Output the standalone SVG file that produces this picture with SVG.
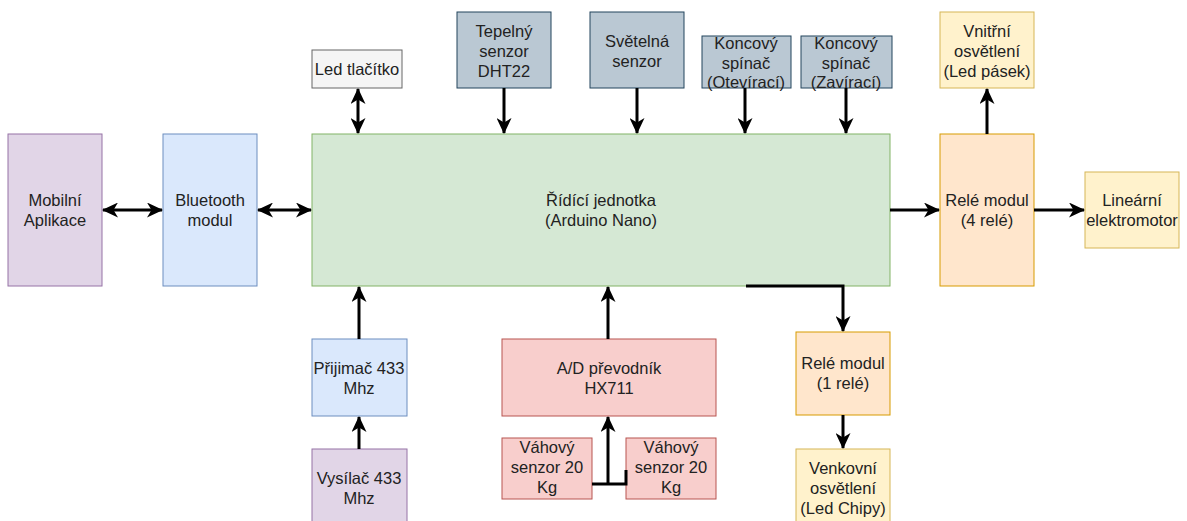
<svg xmlns="http://www.w3.org/2000/svg" width="1187" height="521" viewBox="0 0 1187 521">
<defs>
<style>
rect{stroke-width:1}
.t{font-family:"Liberation Sans",Arial,sans-serif;font-size:16.5px;fill:#222;text-anchor:middle}
.e{fill:none;stroke:#000;stroke-width:3}
.pu{fill:#e1d5e7;stroke:#9673a6}
.bl{fill:#dae8fc;stroke:#6c8ebf}
.gr{fill:#d5e8d4;stroke:#82b366}
.gy{fill:#f5f5f5;stroke:#666666}
.bg{fill:#bac8d3;stroke:#23445d}
.ye{fill:#fff2cc;stroke:#d6b656}
.or{fill:#ffe6cc;stroke:#d79b00}
.re{fill:#f8cecc;stroke:#b85450}
</style>
<marker id="a" viewBox="0 0 16 15" refX="15" refY="7.5" markerWidth="16" markerHeight="15" markerUnits="userSpaceOnUse" orient="auto-start-reverse">
<path d="M0 0 L16 7.5 L0 15 L4.5 7.5 Z" fill="#000"/>
</marker>
</defs>
<g id="mobil"><rect class="pu" x="8" y="134" width="94" height="152"/><text class="t" x="55" y="206">Mobilní</text><text class="t" x="55" y="226">Aplikace</text></g>
<g id="bluetooth"><rect class="bl" x="163" y="134" width="94" height="152"/><text class="t" x="210" y="206">Bluetooth</text><text class="t" x="210" y="226">modul</text></g>
<g id="arduino"><rect class="gr" x="312" y="134" width="578" height="152"/><text class="t" x="601" y="206">Řídící jednotka</text><text class="t" x="601" y="226">(Arduino Nano)</text></g>
<g id="led"><rect class="gy" x="312" y="50" width="90" height="38"/><text class="t" x="357" y="75">Led tlačítko</text></g>
<g id="dht"><rect class="bg" x="457" y="12" width="94" height="76"/><text class="t" x="504" y="37">Tepelný</text><text class="t" x="504" y="57">senzor</text><text class="t" x="504" y="77">DHT22</text></g>
<g id="svetlo"><rect class="bg" x="590" y="12" width="94" height="76"/><text class="t" x="637" y="47">Světelná</text><text class="t" x="637" y="67">senzor</text></g>
<g id="konc1"><rect class="bg" x="702" y="36" width="89" height="52"/><text class="t" x="746" y="49">Koncový</text><text class="t" x="746" y="69">spínač</text><text class="t" x="746" y="88">(Otevírací)</text></g>
<g id="konc2"><rect class="bg" x="801" y="36" width="91" height="52"/><text class="t" x="846" y="49">Koncový</text><text class="t" x="846" y="69">spínač</text><text class="t" x="846" y="88">(Zavírací)</text></g>
<g id="vnitrni"><rect class="ye" x="940" y="12" width="94" height="76"/><text class="t" x="987" y="37">Vnitřní</text><text class="t" x="987" y="57">osvětlení</text><text class="t" x="987" y="77">(Led pásek)</text></g>
<g id="rele4"><rect class="or" x="940" y="134" width="94" height="152"/><text class="t" x="987" y="206">Relé modul</text><text class="t" x="987" y="226">(4 relé)</text></g>
<g id="motor"><rect class="ye" x="1085" y="172" width="94" height="76"/><text class="t" x="1132" y="206">Lineární</text><text class="t" x="1132" y="226">elektromotor</text></g>
<g id="prijimac"><rect class="bl" x="312" y="339" width="95" height="77"/><text class="t" x="359" y="374">Přijimač 433</text><text class="t" x="359" y="394">Mhz</text></g>
<g id="vysilac"><rect class="pu" x="312" y="449" width="95" height="77"/><text class="t" x="359" y="484">Vysílač 433</text><text class="t" x="359" y="504">Mhz</text></g>
<g id="ad"><rect class="re" x="502" y="339" width="214" height="77"/><text class="t" x="609" y="374">A/D převodník</text><text class="t" x="609" y="394">HX711</text></g>
<g id="vaha1"><rect class="re" x="502" y="438" width="90" height="61"/><text class="t" x="547" y="453">Váhový</text><text class="t" x="547" y="473">senzor 20</text><text class="t" x="547" y="493">Kg</text></g>
<g id="vaha2"><rect class="re" x="626" y="438" width="90" height="61"/><text class="t" x="671" y="453">Váhový</text><text class="t" x="671" y="473">senzor 20</text><text class="t" x="671" y="493">Kg</text></g>
<g id="rele1"><rect class="or" x="796" y="332" width="94" height="83"/><text class="t" x="843" y="369">Relé modul</text><text class="t" x="843" y="389">(1 relé)</text></g>
<g id="venkovni"><rect class="ye" x="796" y="449" width="94" height="76"/><text class="t" x="843" y="474">Venkovní</text><text class="t" x="843" y="494">osvětlení</text><text class="t" x="843" y="514">(Led Chipy)</text></g>
<g id="connectors">
<path class="e" d="M103 210 H162" marker-start="url(#a)" marker-end="url(#a)"/>
<path class="e" d="M258 210 H311" marker-start="url(#a)" marker-end="url(#a)"/>
<path class="e" d="M358 89 V133" marker-start="url(#a)" marker-end="url(#a)"/>
<path class="e" d="M504 88 V133" marker-end="url(#a)"/>
<path class="e" d="M637 88 V133" marker-end="url(#a)"/>
<path class="e" d="M745 88 V133" marker-end="url(#a)"/>
<path class="e" d="M846 88 V133" marker-end="url(#a)"/>
<path class="e" d="M987 134 V89" marker-end="url(#a)"/>
<path class="e" d="M890 210 H939" marker-end="url(#a)"/>
<path class="e" d="M1034 210 H1084" marker-end="url(#a)"/>
<path class="e" d="M359 339 V287" marker-end="url(#a)"/>
<path class="e" d="M359 449 V417" marker-end="url(#a)"/>
<path class="e" d="M608 339 V287" marker-end="url(#a)"/>
<path class="e" d="M592 484 H626 V470"/>
<path class="e" d="M608 484 V417" marker-end="url(#a)"/>
<path class="e" d="M746 286 H843 V331" marker-end="url(#a)"/>
<path class="e" d="M843 415 V448" marker-end="url(#a)"/>
</g>
</svg>
